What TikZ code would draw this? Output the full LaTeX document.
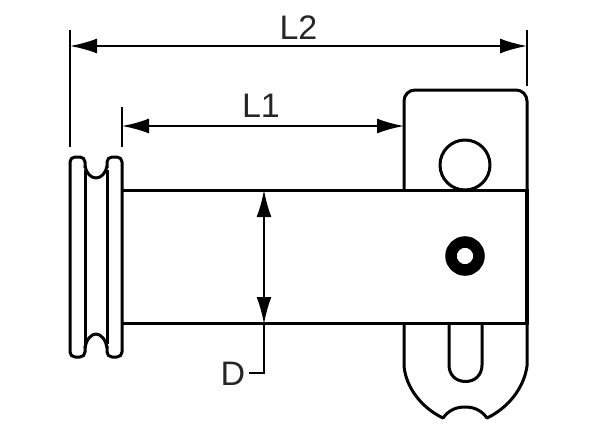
\documentclass[tikz,border=0pt]{standalone}
\usepackage{fontspec}
\setmainfont{Liberation Sans}
\usetikzlibrary{arrows.meta}
\tikzset{
  part/.style={line width=3pt,line join=round,black},
  dimline/.style={line width=2pt,black,{Latex[length=27pt,width=15pt]}-{Latex[length=27pt,width=15pt]}},
  extline/.style={line width=2pt,black},
  dimlabel/.style={font=\fontsize{34}{34}\selectfont,text=black!85,inner sep=0pt}
}
\begin{document}
\begin{tikzpicture}[x=1pt,y=-1pt]
\useasboundingbox (0,0) rectangle (600,434);
% flange
\draw[part,rounded corners=5pt] (85,168) -- (85,157) -- (70,157) -- (70,357) -- (85,357) -- (85,346);
\draw[part,rounded corners=5pt] (107,168) -- (107,157) -- (122,157) -- (122,357) -- (107,357) -- (107,346);
\draw[part] (85,166) .. controls (86,173) and (91,178) .. (96,178) .. controls (101,178) and (106,173) .. (107,166);
\draw[part] (85,348) .. controls (86,340) and (91,334) .. (96,334) .. controls (101,334) and (106,340) .. (107,348);
\draw[part] (85,170) -- (85,344);
\draw[part] (107,170) -- (107,344);
% pin
\draw[part] (122,190.5) -- (527,190.5);
\draw[part] (122,323) -- (527,323);
\draw[line width=4.5pt,black] (527,189) -- (527,324.5);
% head top
\draw[part,rounded corners=11pt] (404,190) -- (404,90) -- (527,90) -- (527,190);
\begin{scope}
\clip (430,130) rectangle (500,190);
\draw[part] (465,165) circle[radius=25];
\end{scope}
% head bottom
\draw[part] (404,323) -- (404,366) .. controls (406,388) and (422,408) .. (443,418)
  .. controls (449,410) and (456,407) .. (465,407) .. controls (474,407) and (481,410) .. (487,418)
  .. controls (508,408) and (524,388) .. (527,366) -- (527,323);
\draw[part] (449,323) -- (449,365) .. controls (449,375) and (456,381.5) .. (465.5,381.5) .. controls (475,381.5) and (482,375) .. (482,365) -- (482,323);
% bore
\draw[line width=11.5pt,black] (465,256) circle[radius=14];
% extension lines
\draw[extline] (70,30) -- (70,147);
\draw[extline] (527,30) -- (527,86);
\draw[extline] (122,107) -- (122,147);
% dimensions
\coordinate (L2a) at (70,46); \coordinate (L2b) at (527,46);
\coordinate (L1a) at (122,126); \coordinate (L1b) at (404,126);
\coordinate (Da) at (264,190); \coordinate (Db) at (264,324);
\draw[dimline] (L2a) -- (L2b);
\draw[dimline] (L1a) -- (L1b);
\draw[dimline] (Da) -- (Db);
\node[dimlabel] (labL2) at (298.5,28) {L2};
\node[dimlabel] (labL1) at (261,106) {L1};
\node[dimlabel] (labD) at (233,374) {D};
\draw[extline] (Db) -- (264,373) -- (249,373);
\end{tikzpicture}
\end{document}
